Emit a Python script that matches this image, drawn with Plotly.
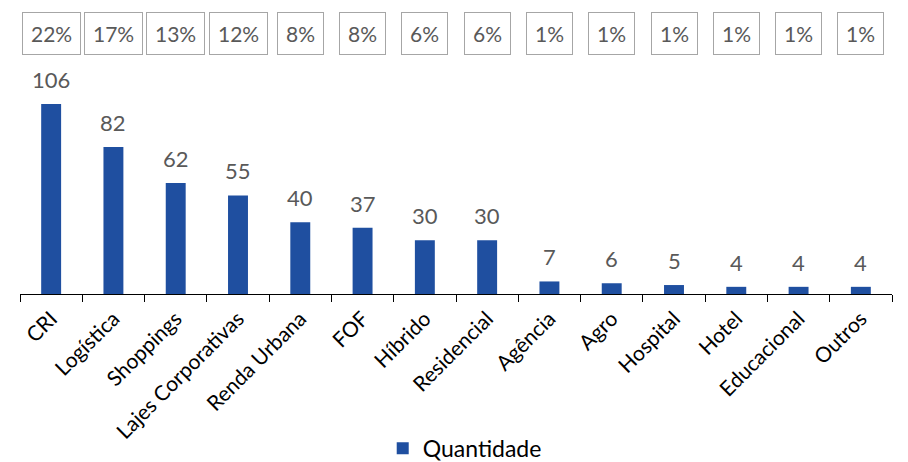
import plotly.graph_objects as go

categories = ["CRI", "Logística", "Shoppings", "Lajes Corporativas", "Renda Urbana", "FOF",
              "Híbrido", "Residencial", "Agência", "Agro", "Hospital", "Hotel", "Educacional", "Outros"]
quantidade = [106, 82, 62, 55, 40, 37, 30, 30, 7, 6, 5, 4, 4, 4]
percentuais = ["22%", "17%", "13%", "12%", "8%", "8%", "6%", "6%", "1%", "1%", "1%", "1%", "1%", "1%"]

FONT = "Lato"
BAR_COLOR = "#1F4FA0"

fig = go.Figure()
fig.add_trace(go.Bar(
    x=categories, y=quantidade, name="Quantidade",
    marker=dict(color=BAR_COLOR, line=dict(width=0)),
    width=0.32, showlegend=True,
))

annotations = []
for c, v in zip(categories, quantidade):
    annotations.append(dict(
        x=c, y=v, xref="x", yref="y", text=str(v), showarrow=False,
        yanchor="bottom", yshift=9,
        font=dict(family=FONT, size=22, color="#595959"),
    ))
for c, p in zip(categories, percentuais):
    annotations.append(dict(
        x=c, y=1.12, xref="x", yref="paper", text=p, showarrow=False,
        yanchor="middle",
        font=dict(family=FONT, size=21, color="#595959"),
        bordercolor="#A6A6A6", borderwidth=1, borderpad=8, bgcolor="white",
    ))

# page body has an 8px default margin, so the figure is 8px smaller each way
fig.update_layout(
    width=900, height=454,
    margin=dict(l=12, r=16, t=53, b=167.5, autoexpand=False),
    plot_bgcolor="white", paper_bgcolor="white",
    font=dict(family=FONT, size=21, color="#000000"),
    xaxis=dict(
        type="category", tickangle=-45, tickson="boundaries", automargin=False,
        ticks="outside", ticklen=7, tickcolor="#000000", tickwidth=1.3,
        showline=True, linecolor="#000000", linewidth=1.3,
        tickfont=dict(family=FONT, size=21, color="#000000"),
        ticklabelstandoff=3,
        showgrid=False,
    ),
    yaxis=dict(range=[0, 130], visible=False, showgrid=False, zeroline=False, automargin=False),
    legend=dict(orientation="h", x=0.51, xanchor="center", y=-0.57, yanchor="top",
                font=dict(family=FONT, size=23, color="#000000")),
    annotations=annotations,
)

fig.write_html("out.html")
